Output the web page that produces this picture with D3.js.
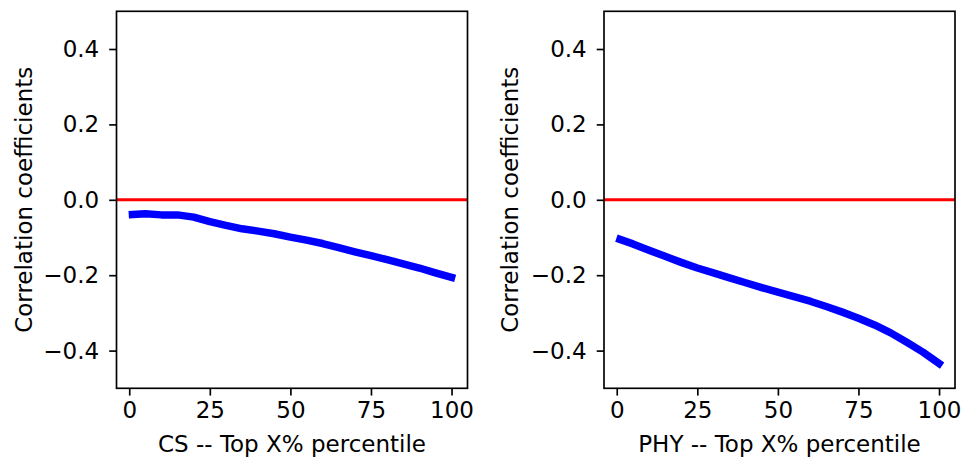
<!DOCTYPE html>
<html>
<head>
<meta charset="utf-8">
<script src="https://cdn.jsdelivr.net/npm/d3@7/dist/d3.min.js"></script>
<style>
  body { margin: 0; background: #fff; }
  svg { display: block; }
  text { font-family: "DejaVu Sans", sans-serif; fill: #000; }
</style>
</head>
<body>
<svg id="chart" width="961" height="458"></svg>
<script>
const xValues = [1, 5, 10, 15, 20, 25, 30, 35, 40, 45, 50, 55, 60, 65, 70, 75, 80, 85, 90, 95, 100];
const csValues = [-0.039, -0.037, -0.040, -0.040, -0.046, -0.058, -0.068, -0.077, -0.083, -0.090, -0.099,
                  -0.107, -0.116, -0.127, -0.138, -0.148, -0.159, -0.170, -0.181, -0.194, -0.206];
const phyValues = [-0.105, -0.117, -0.134, -0.150, -0.166, -0.181, -0.194, -0.207, -0.220, -0.233, -0.245,
                   -0.257, -0.269, -0.283, -0.298, -0.314, -0.332, -0.353, -0.378, -0.404, -0.434];
const xTicks = [0, 25, 50, 75, 100];
const yTicks = [-0.4, -0.2, 0.0, 0.2, 0.4];
const panelNames = ["CS", "PHY"];
const yLabel = "Correlation coefficients";
const xLabelSuffix = " -- Top X% percentile";
const referenceLine = 0;

const svg = d3.select("#chart");
const FS = 23;
const panels = [
  { name: panelNames[0], values: csValues, left: 116.5, ylabX: 31.5 },
  { name: panelNames[1], values: phyValues, left: 604, ylabX: 517.5 }
];
const plotTop = 11.3, plotH = 377, plotW = 351;

panels.forEach(p => {
  const x = d3.scaleLinear().domain([-3.95, 104.95]).range([p.left, p.left + plotW]);
  const y = d3.scaleLinear().domain([-0.5, 0.5]).range([plotTop + plotH, plotTop]);
  const g = svg.append("g");

  // zero line
  g.append("line")
    .attr("x1", p.left).attr("x2", p.left + plotW)
    .attr("y1", y(referenceLine)).attr("y2", y(referenceLine))
    .attr("stroke", "#ff0000").attr("stroke-width", 3.1);

  // data line
  const data = xValues.map((v, i) => [v, p.values[i]]);
  g.append("path")
    .datum(data)
    .attr("fill", "none")
    .attr("stroke", "#0000ff")
    .attr("stroke-width", 7.5)
    .attr("stroke-linecap", "square")
    .attr("stroke-linejoin", "round")
    .attr("d", d3.line().x(d => x(d[0])).y(d => y(d[1])));

  // axes
  const xAxis = d3.axisBottom(x).tickValues(xTicks).tickFormat(d3.format("d")).tickSize(7.3).tickPadding(6);
  const yAxis = d3.axisLeft(y).tickValues(yTicks).tickFormat(d => d3.format(".1f")(d).replace("-", "\u2212")).tickSize(7.3).tickPadding(10);

  const gx = g.append("g").attr("transform", `translate(0,${plotTop + plotH})`).call(xAxis);
  const gy = g.append("g").attr("transform", `translate(${p.left},0)`).call(yAxis);
  [gx, gy].forEach(ax => {
    ax.select(".domain").remove();
    ax.selectAll(".tick line").attr("stroke", "#000").attr("stroke-width", 1.67);
    ax.selectAll(".tick text").attr("font-size", FS).attr("font-family", "DejaVu Sans").attr("fill", "#000");
  });
  gy.selectAll(".tick text").attr("dy", "0.33em");
  gx.selectAll(".tick text").attr("dy", "0.71em");

  // frame
  g.append("rect")
    .attr("x", p.left).attr("y", plotTop).attr("width", plotW).attr("height", plotH)
    .attr("fill", "none").attr("stroke", "#000").attr("stroke-width", 1.67);

  // labels
  g.append("text")
    .attr("x", p.left + plotW / 2).attr("y", 451.5)
    .attr("text-anchor", "middle").attr("font-size", FS)
    .text(p.name + xLabelSuffix);
  g.append("text")
    .attr("transform", `translate(${p.ylabX},${plotTop + plotH / 2}) rotate(-90)`)
    .attr("text-anchor", "middle").attr("font-size", FS)
    .text(yLabel);
});
</script>
</body>
</html>
